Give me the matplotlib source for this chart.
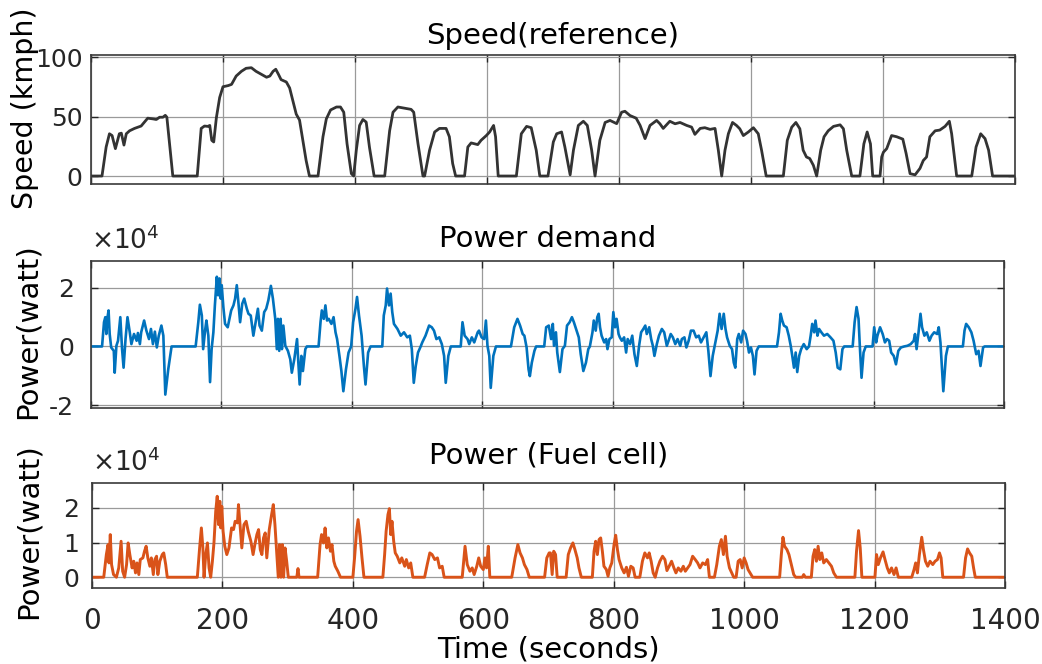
import matplotlib
matplotlib.use("Agg")
import matplotlib.pyplot as plt
import numpy as np

# speed profile (s, km/h)
speed_t = [0, 16.7, 23, 28, 32, 37, 43, 46, 50, 53.5, 58.5, 66, 76, 86, 94, 99, 104, 109, 112.6, 115, 124,
           161, 167, 172, 177, 180, 183, 186, 190, 195, 200, 208, 213, 220, 228, 235, 243, 250, 258, 266, 271,
           276, 280, 284, 288, 296, 301, 306, 311, 316, 321, 326, 331, 344, 351.5, 356.6, 363, 372, 378, 383,
           388, 394.5, 398, 402, 407, 412, 417, 422, 429, 445, 452.5, 457.6, 465, 475, 485, 489, 495.5, 503,
           505.5, 513, 520.7, 528, 538, 543, 548, 552.5, 566, 571, 576, 586, 591, 599, 604, 610, 613, 617,
           644.5, 652, 660, 667, 674.6, 680, 692.4, 700.5, 705.6, 713, 718, 726, 731, 738.4, 746, 752, 758.6,
           763.7, 771, 779, 786.4, 796.5, 804, 809, 816.7, 826, 832, 839.5, 847, 857, 862, 867, 877, 885,
           892.5, 902.6, 910, 915, 923, 930, 938, 945.5, 950.5, 955.6, 960.6, 965.7, 972, 978, 983, 988.4,
           996, 1003.6, 1011, 1016, 1023, 1049, 1055, 1061.7, 1068, 1074, 1079, 1084, 1089, 1094.5, 1099.5,
           1105.6, 1110.7, 1117, 1125, 1135, 1140, 1145, 1152.6, 1165, 1171, 1176, 1181, 1184.4, 1195.5,
           1198, 1200.6, 1205.6, 1213, 1220.7, 1230, 1235, 1241, 1248.6, 1256, 1261, 1266, 1271, 1279, 1286,
           1294, 1300.5, 1304, 1311.6, 1334.4, 1341, 1348, 1354.6, 1360, 1366, 1400]
speed_v = [0, 0, 24.4, 35.5, 34, 23, 35.5, 36, 26, 35.5, 38, 40, 42, 48.6, 48, 47.5, 49.4, 49.4, 51, 49.4, 0,
           0, 40, 42, 41.7, 42.5, 30, 28.6, 49, 66, 75, 76, 77, 84, 88, 90.5, 91, 88, 85.5, 83, 84,
           88, 89.7, 85.5, 81, 79, 74, 63, 52, 47, 30, 13, 0, 0, 33, 48, 55.5, 58, 58, 53.6,
           27, 2, 0, 21.7, 42.5, 47.5, 45.3, 24, 0, 0, 38, 53.6, 58, 57, 56, 53.6, 27, 0,
           0, 21.7, 37, 40, 40, 33, 10.5, 0, 0, 24.4, 27.8, 26.4, 30, 34, 37, 42.5, 33, 0,
           0, 35.5, 41.7, 40.6, 21.7, 0, 0, 28.6, 35.5, 37, 24.4, 1, 21.7, 42.5, 46, 42.5, 21.7,
           0, 30, 45, 46.7, 44, 53.6, 54.4, 50.8, 48.6, 42.5, 31.4, 42.5, 46.7, 43.9, 40, 46, 43.9,
           45, 42.5, 41.1, 35, 40, 40.6, 39.2, 40, 21.7, 0, 21.7, 35.5, 45, 42.5, 39.7, 34,
           37, 40.6, 35.5, 21.7, 0, 0, 30, 41, 45, 39.7, 21.7, 16, 14.7, 9, 0,
           21.7, 33, 38, 41.7, 43, 39.7, 21.7, 0, 0, 27, 37, 27, 0, 0,
           16, 20, 23, 34, 33, 31, 19, 2, 1, 6.4, 13, 16, 33, 38, 38.6,
           41.7, 46, 35.5, 0, 0, 24.4, 35.5, 31.4, 21.7, 0, 0]

# power demand (s, W)
demand_t = [0, 17, 20, 22, 23.6, 25, 27, 28.7, 31, 35, 36.4, 39, 41.5, 45, 47.7, 50, 53, 56, 59.5, 62, 66, 70,
            72, 75, 77, 81.5, 85, 89, 92, 95, 98, 101, 104, 108, 111, 114, 118.5, 123.6, 160.5, 164.6, 167,
            170, 172, 175, 177, 180, 182.6, 185, 187.7, 190, 193, 195, 197, 199, 200.5, 203, 205.6, 209.7,
            215, 218.5, 221, 223.6, 226, 228.7, 232, 235, 239, 241.5, 245, 249, 253, 256, 258.5, 262, 265.6,
            268.7, 272, 275.9, 279, 282.6, 285, 286.7, 288.7, 290.8, 292.8, 295, 298, 302, 305.6, 308, 311.8,
            316, 317.4, 320, 322.6, 325, 328.7, 331, 349, 352, 354, 357, 359.5, 362, 364.6, 368.7, 372, 375,
            377.4, 381, 384, 387, 391, 395, 399, 402, 405.6, 408, 411, 415, 418.5, 421, 425, 428.7, 446.7,
            449, 452, 454, 457, 459.5, 462, 464.6, 470, 475, 480, 485, 489, 492, 495, 498, 501.5, 505.6, 508,
            513, 518.5, 522.6, 526, 529.7, 534, 538, 541.5, 544, 548, 551.8, 567, 569.7, 573, 577.4, 580,
            584, 587.7, 593, 595, 599, 603, 605.6, 608, 610.8, 613, 617, 621, 644, 649, 654, 658, 662, 664.6,
            668, 671, 673, 676, 680, 682.6, 695, 698, 702, 705.6, 708.2, 710, 713, 715, 719, 723, 726.7, 730,
            734, 737.5, 740.5, 744.7, 748, 751, 755, 759, 762.6, 765, 769, 771, 774, 776.4, 778.5, 780.6, 783,
            787, 790, 792, 795, 798.5, 801, 803.6, 806, 809, 811, 814, 817.5, 820.6, 823, 826.7, 830, 833.4,
            837, 840.5, 843.6, 847, 850, 852.3, 856, 859, 861.6, 864, 867.7, 871, 875.4, 879, 883, 885.7,
            889, 892.3, 896, 899.5, 903.6, 906, 910, 913, 916.5, 920, 924, 928, 932, 935.4, 939.5, 943.6,
            946.7, 950, 953.4, 957.5, 961, 964, 967, 970.3, 973, 975.4, 979.5, 983, 985.7, 988, 991, 993.4,
            997, 1000, 1003.6, 1006, 1009, 1012, 1015, 1017.5, 1020.6, 1024, 1052, 1055, 1057.5, 1060,
            1062.6, 1066.7, 1070, 1073, 1075.4, 1078, 1080.6, 1083, 1086, 1089, 1093, 1097.5, 1101, 1103.6,
            1106, 1109, 1111, 1114, 1116.5, 1120, 1124, 1129, 1134, 1138.5, 1142, 1145, 1149, 1152.3, 1155,
            1168, 1171, 1174, 1177, 1179, 1181.6, 1184.7, 1188, 1198.5, 1201, 1204, 1206, 1210, 1214, 1217.5,
            1220.6, 1224, 1227, 1231, 1234.4, 1238, 1242, 1247, 1252, 1257, 1261.6, 1263.6, 1266, 1269, 1272,
            1274.4, 1278, 1281.6, 1285.7, 1289, 1293, 1297.5, 1300, 1302.6, 1307, 1311, 1314, 1337, 1339.5,
            1342, 1346, 1350, 1353.4, 1357.5, 1361, 1364, 1368, 1370.3, 1400]
demand_w = [0, 0, 8230, 9940, 4230, 9370, 12230, 4230, -340, -1490, -8910, 230, 1940, 9940, -910, -7200, 2510,
            9940, 4800, 800, 4230, 1940, 4570, 800, 4800, 8800, 5370, 2510, 5940, 800, 5030, -340, 3660, 7090,
            3660, -16340, -7770, 0, 0, 8230, 14170, 10510, -910, 5370, 8800, 3660, -12110, -910, 4800, 13940,
            23660, 17370, 23090, 16230, 20800, 13370, 7660, 6510, 12230, 13940, 16230, 20800, 15090, 8230,
            14510, 16230, 12800, 11090, 10510, 3660, 8800, 12800, 7090, 5370, 11660, 12800, 15660, 20570,
            16230, 9370, -910, 9370, -1490, 9370, -910, 7090, 230, -1490, -4340, -8910, -4340, 2510, -3200,
            -12910, -3200, -8340, -910, 0, 0, 8230, 12230, 9370, 13940, 8800, 9370, 7660, 9940, 4800, 2510,
            -3200, -8340, -15200, -7770, -2060, 0, 8230, 12800, 16800, 10510, 3660, -6630, -12910, -2060, 0,
            0, 10510, 13940, 19660, 13940, 17940, 11660, 7660, 5940, 3660, 4800, 3090, 3660, -910, -12340,
            -6630, -2060, 0, 1370, 3660, 7090, 6510, 5370, 2510, 3090, 800, -3200, -12340, -3200, 0, 0, 8230,
            3660, 2510, 800, 3090, 1370, 4800, 5370, 3090, 2510, 8800, 230, -3200, -14060, -3200, 0, 0, 6510,
            9370, 7090, 4230, 3660, -340, -7770, -10060, -5490, -1490, 0, 0, 6510, 7090, 2510, 7660, 230,
            4800, -2060, -8690, -910, 230, 7090, 8230, 9940, 8230, 5370, 3090, -2630, -8340, -5490, -910, 0,
            4800, 8800, 5370, 9940, 11090, 6510, 3660, 1370, 2510, -910, 2510, 3090, 11660, 6510, 9370, 4230,
            3090, 1940, 3090, -2060, 2510, 800, 3660, -2630, -6630, 230, 4800, 5940, 7090, 4230, 6510, 2510,
            230, -3200, 800, 3660, 5940, 4800, 230, 1940, 4230, 3090, 800, 2510, 230, 2510, 3090, -340, 1940,
            5370, 5370, 3090, 3660, 1370, 3090, 4800, -1490, -10060, -3200, 1370, 5370, 11090, 5940, 11090,
            5940, 3090, 230, -910, -5490, -7200, 2510, 4230, 1370, 5370, 4230, 1940, -2060, -340, -3200,
            -9490, -1490, 0, 0, 4800, 11090, 8800, 7090, 6510, 3660, 230, -3200, -7200, -2060, -8690, -3200,
            -910, 800, -910, 0, 3660, 7660, 4800, 8800, 3660, 5940, 4800, 3660, 4230, 3090, 1940, -2060,
            -7200, -7770, -910, 0, 0, 8230, 13370, 9370, 0, -10630, -2060, 0, 0, 6510, 1370, 3660, 6510, 4230,
            1370, 2510, 1940, -2060, -3200, -6060, -1490, -340, 0, 230, 800, 1940, 4230, -910, 4800, 11090,
            6510, 3660, 4800, 1940, 3660, 4800, 4230, 6510, 1370, -15200, -3200, 0, 0, 5370, 7660, 6510,
            4800, 1940, -2630, -1490, -6630, -340, 0, 0]

# fuel cell power (s, W)
fc_t = [0, 18, 22, 24.6, 26, 28, 30, 33, 37.4, 41, 44.6, 47, 50, 53, 55.4, 58, 61.5, 64, 66.7, 69, 71.8, 74,
        78, 80.5, 83, 85.6, 88.7, 91, 94, 96.4, 99, 101, 104, 107.7, 110, 113, 115.4, 161.5, 165, 167.7, 170,
        171.8, 174.4, 177, 179.5, 182, 184.6, 187, 189.7, 192, 194, 196, 197.4, 199, 201, 203.6, 206.7, 210,
        214, 217, 219.5, 223, 224.6, 227, 229.7, 233, 236.4, 239.5, 243.6, 247, 249.7, 252.8, 255.4, 258,
        260.5, 263, 265.6, 268, 271.8, 275.4, 278, 280.5, 283, 285.6, 287.7, 289.7, 291.8, 293.8, 296,
        298.5, 301, 314, 315.9, 317.4, 346, 349.7, 352, 355, 357.4, 360, 362.6, 365.6, 368, 370.8, 373, 377,
        381, 400, 402.6, 405.6, 408, 411, 414, 417, 446, 448.7, 451, 453.8, 456, 458, 460, 462.6, 465, 468,
        472, 475, 479.5, 482, 485.6, 488.7, 492, 510, 514, 518, 521.5, 525.6, 529.7, 533, 537, 540, 567.7,
        572, 575.4, 579.5, 583, 586, 590, 593, 596, 600, 602.6, 605, 607.7, 610, 643.6, 648.7, 653, 656.4,
        660, 663, 667, 670.5, 694, 697.4, 701, 703, 705.6, 708, 710.8, 713.3, 727, 730.3, 733.8, 737.4,
        740.5, 744, 746.7, 750.3, 767.2, 769.8, 772.3, 774.9, 777.5, 780, 782.6, 785, 788.7, 791.3, 794,
        797, 800.5, 803, 805.7, 808.2, 812.3, 816, 819.5, 822.6, 826.2, 829.8, 832.8, 840, 844, 847.7,
        851.8, 854.4, 857.4, 860.5, 863.6, 867.2, 870.8, 874.9, 878.5, 881.6, 885, 888.7, 892.3, 895.4, 899,
        903, 906.7, 909.8, 913.4, 917, 921, 925, 928.7, 932.3, 936.4, 940.5, 944, 946.7, 954.4, 958, 962,
        965, 968.2, 971.3, 973.9, 977.5, 981, 984, 987.7, 990.8, 993.9, 997, 1000, 1003, 1006, 1009, 1013,
        1054.4, 1057, 1059.5, 1062, 1065.6, 1068.7, 1072.3, 1076, 1079, 1089.3, 1091.3, 1093.9, 1103,
        1105.6, 1108.2, 1110.8, 1113.4, 1116, 1119, 1122, 1126, 1130, 1133.9, 1137.4, 1141.5, 1169.8,
        1172.3, 1175.4, 1178, 1180.5, 1200.5, 1203, 1205.7, 1209, 1213, 1216, 1219.5, 1222.6, 1226, 1229.8,
        1233, 1236.4, 1257, 1260.5, 1263, 1265.7, 1268.7, 1272.3, 1274.9, 1278, 1281.5, 1285, 1289.2,
        1292.8, 1296.4, 1299.5, 1302, 1304.6, 1336.4, 1339.5, 1342.6, 1345.6, 1349, 1351.8, 1354.4, 1400]
fc_w = [0, 0, 6540, 9420, 4130, 12310, 3650, 770, 0, 2690, 10380, 1730, 0, 3650, 9900, 6540, 2690, 4620, 1250,
        4130, 770, 5100, 5580, 7500, 8940, 5580, 3170, 5580, 770, 5100, 6060, 770, 4620, 6540, 7020, 3650, 0,
        0, 8460, 14230, 8460, 0, 6540, 9900, 2690, 0, 4620, 9900, 19040, 23370, 15190, 21920, 14230, 20480,
        13270, 8940, 6540, 8460, 14230, 13750, 16150, 15670, 20960, 15190, 8460, 15190, 16150, 13270, 10380,
        6540, 9420, 12310, 13750, 7980, 6540, 11350, 12790, 5580, 13750, 18080, 20960, 15190, 7500, 0, 9420,
        0, 9420, 0, 8460, 4620, 0, 0, 2500, 0, 0, 9420, 12310, 9900, 14230, 8460, 11350, 7500, 9420, 4620,
        3170, 1730, 0, 0, 5580, 13270, 16630, 11830, 5580, 0, 0, 6540, 13270, 18080, 19810, 12310, 16150,
        10380, 7020, 6060, 4130, 5580, 3170, 5100, 2690, 4130, 0, 0, 3650, 7020, 6540, 5100, 5580, 2690,
        3170, 0, 0, 8940, 3650, 1730, 2690, 770, 3170, 5580, 3170, 2210, 5580, 2690, 8940, 0, 0, 5580, 9420,
        7020, 5580, 3650, 2210, 0, 0, 5580, 7020, 7020, 770, 7500, 6540, 0, 0, 6540, 8460, 9900, 7980, 5580,
        2690, 0, 0, 7500, 10380, 6540, 10870, 11350, 7500, 3170, 2210, 290, 2690, 4130, 9420, 12120, 7980,
        5100, 2690, 1250, 2880, 290, 3170, 2690, 0, 0, 4620, 7020, 5580, 7020, 4620, 1250, 0, 2690, 4620,
        6060, 5100, 1920, 3170, 4620, 2690, 1250, 2690, 1730, 3170, 1730, 2690, 3650, 6060, 5100, 4130, 2690,
        4130, 3650, 5100, 0, 0, 3650, 8940, 10870, 6540, 11830, 6060, 2690, 1250, 0, 0, 4620, 5100, 2690,
        5580, 4130, 2210, 1250, 0, 0, 6540, 11540, 8940, 7980, 6540, 3650, 770, 0, 0, 770, 0, 0, 6060, 7980,
        4620, 8940, 5100, 7020, 4130, 5100, 4130, 3170, 1250, 0, 0, 7500, 13460, 8460, 0, 0, 6540, 3650,
        5580, 7310, 5100, 2690, 1250, 2690, 770, 2690, 0, 0, 2210, 4130, 1250, 6540, 11540, 7980, 4620, 3170,
        4620, 3650, 4620, 5100, 7020, 5580, 0, 0, 5580, 8170, 7020, 6060, 2690, 0, 0]

plt.rcParams['font.family'] = 'DejaVu Sans'
fig = plt.figure(figsize=(10.42, 6.64), dpi=100)

ax1 = fig.add_axes([0.0873, 0.7229, 0.8868, 0.1943])
ax2 = fig.add_axes([0.0873, 0.3855, 0.8762, 0.2214])
ax3 = fig.add_axes([0.0883, 0.1145, 0.8762, 0.1581])

ax1.plot(speed_t, speed_v, color='#333333', lw=2.0)
ax2.plot(demand_t, demand_w, color='#0072BD', lw=1.9)
ax3.plot(fc_t, fc_w, color='#D95319', lw=2.1)

xt = np.arange(0, 1401, 200)
for ax in (ax1, ax2, ax3):
    ax.set_xlim(0, 1400)
    ax.set_xticks(xt)
    ax.grid(True, color='#9a9a9a', lw=0.9)
    ax.set_axisbelow(True)
    ax.tick_params(direction='in', top=True, right=True, length=5, width=1,
                   colors='#262626', labelsize=18)
    for s in ax.spines.values():
        s.set_color('#3a3a3a')
        s.set_linewidth(1.2)

ax1.set_ylim(-6.7, 101.7)
ax1.set_yticks([0, 50, 100])
ax1.set_xticklabels([])
ax1.tick_params(axis='y', pad=6)
ax1.set_title('Speed(reference)', fontsize=21, pad=8)
ax1.set_ylabel('Speed (kmph)', fontsize=20.5)
ax1.yaxis.set_label_coords(-0.056, 0.59)

ax2.set_ylim(-2.09e4, 2.9e4)
ax2.set_yticks([-2e4, 0, 2e4])
ax2.set_yticklabels(['-2', '0', '2'])
ax2.set_xticklabels([])
ax2.tick_params(axis='y', pad=12)
ax2.set_title('Power demand', fontsize=21, pad=10)
ax2.set_ylabel('Power(watt)', fontsize=21)
ax2.yaxis.set_label_coords(-0.054, 0.52)
ax2.text(0.0, 1.04, r'$\times\mathregular{10^{4}}$', transform=ax2.transAxes,
         fontsize=19, color='#262626', ha='left', va='bottom')

ax3.set_ylim(-0.31e4, 2.72e4)
ax3.set_yticks([0, 1e4, 2e4])
ax3.set_yticklabels(['0', '1', '2'])
ax3.tick_params(axis='y', pad=9)
ax3.tick_params(axis='x', labelsize=20, pad=14)
ax3.set_title('Power (Fuel cell)', fontsize=21, pad=14)
ax3.set_ylabel('Power(watt)', fontsize=21)
ax3.yaxis.set_label_coords(-0.054, 0.54)
ax3.set_xlabel('Time (seconds)', fontsize=21, labelpad=0)
ax3.text(0.0, 1.06, r'$\times\mathregular{10^{4}}$', transform=ax3.transAxes,
         fontsize=19, color='#262626', ha='left', va='bottom')

fig.savefig('out.png', dpi=100)
